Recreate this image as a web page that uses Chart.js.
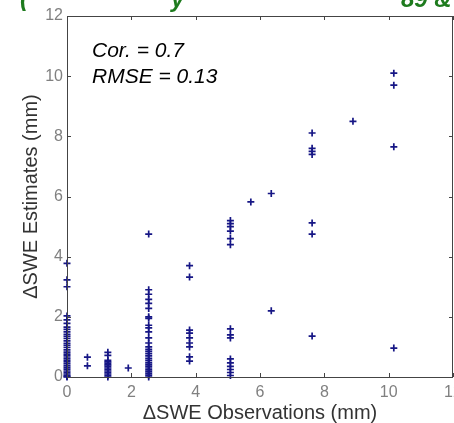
<!DOCTYPE html>
<html>
<head>
<meta charset="utf-8">
<script src="https://cdn.jsdelivr.net/npm/chart.js@4.4.1/dist/chart.umd.min.js"></script>
<style>
html,body{margin:0;padding:0;background:#fff;}
canvas{display:block;}
</style>
</head>
<body>
<canvas id="c" width="454" height="423"></canvas>
<script>
// ---- Data ----
const obsLevels = [0, 0.635, 1.27, 1.905, 2.54, 3.81, 5.08, 5.715, 6.35, 7.62, 8.89, 10.16];
const estAt0 = [3.78, 3.23, 3.0, 2.03, 1.9, 1.78, 1.66, 1.58, 1.5, 1.42, 1.35, 1.28, 1.2, 1.12, 1.05, 0.98, 0.9, 0.83, 0.76, 0.7, 0.63, 0.56, 0.5, 0.44, 0.38, 0.32, 0.26, 0.2, 0.15, 0.1, 0.05, 0.02, 0];
const estAt0635 = [0.66, 0.37];
const estAt127 = [0.82, 0.72, 0.55, 0.5, 0.45, 0.4, 0.35, 0.3, 0.25, 0.2, 0.15, 0.1, 0.05, 0.0];
const estAt1905 = [0.3];
const estAt254 = [4.75, 2.9, 2.75, 2.58, 2.45, 2.28, 2.0, 1.95, 1.72, 1.63, 1.5, 1.3, 1.13, 1.0, 0.92, 0.85, 0.78, 0.7, 0.62, 0.55, 0.48, 0.42, 0.36, 0.3, 0.24, 0.18, 0.12, 0.06, 0.0];
const estAt381 = [3.7, 3.32, 1.56, 1.46, 1.3, 1.13, 1.0, 0.67, 0.53];
const estAt508 = [5.2, 5.1, 5.0, 4.85, 4.6, 4.4, 1.6, 1.4, 1.3, 0.6, 0.47, 0.35, 0.25, 0.15, 0.05];
const estAt5715 = [5.82];
const estAt635 = [6.1, 2.2];
const estAt762 = [8.11, 7.6, 7.5, 7.4, 5.12, 4.75, 1.36];
const estAt889 = [8.5];
const estAt1016 = [10.1, 9.7, 7.65, 0.96];
const estColumns = [estAt0, estAt0635, estAt127, estAt1905, estAt254, estAt381, estAt508, estAt5715, estAt635, estAt762, estAt889, estAt1016];
const tickValues = [0, 2, 4, 6, 8, 10, 12];
const statLines = ['Cor. = 0.7', 'RMSE = 0.13'];
const xTitle = '\u0394SWE Observations (mm)';
const yTitle = '\u0394SWE Estimates (mm)';
const topFragments = ['(', 'y', '89 &'];

// build points
const points = [];
obsLevels.forEach((x, i) => estColumns[i].forEach(y => points.push({x: x, y: y})));

const boxPlugin = {
  id: 'matlabBox',
  afterDatasetsDraw(chart) {
    const {ctx, chartArea: a, scales} = chart;
    ctx.save();
    ctx.strokeStyle = '#444';
    ctx.lineWidth = 1;
    ctx.strokeRect(Math.round(a.left) + 0.5, Math.round(a.top) + 0.5, Math.round(a.right - a.left) - 1, Math.round(a.bottom - a.top));
    const L = 4;
    ctx.beginPath();
    tickValues.forEach(v => {
      const px = Math.round(scales.x.getPixelForValue(v)) + 0.5;
      ctx.moveTo(px, a.bottom); ctx.lineTo(px, a.bottom - L);
      ctx.moveTo(px, a.top); ctx.lineTo(px, a.top + L);
      const py = Math.round(scales.y.getPixelForValue(v)) + 0.5;
      ctx.moveTo(a.left, py); ctx.lineTo(a.left + L, py);
      ctx.moveTo(a.right, py); ctx.lineTo(a.right - L, py);
    });
    ctx.stroke();
    // stats text
    ctx.fillStyle = '#000';
    ctx.font = 'italic 21px "Liberation Sans", Arial, sans-serif';
    ctx.textBaseline = 'alphabetic';
    ctx.textAlign = 'left';
    ctx.fillText(statLines[0], a.left + 25, a.top + 41);
    ctx.fillText(statLines[1], a.left + 25, a.top + 67);
    // cut-off green title fragments at very top
    ctx.fillStyle = '#1e7b1e';
    ctx.font = 'bold italic 24px "Liberation Sans", Arial, sans-serif';
    ctx.fillText(topFragments[0], 20, 6);
    ctx.fillText(topFragments[1], 171, 7);
    ctx.fillText(topFragments[2], 401, 7);
    ctx.restore();
  }
};

new Chart(document.getElementById('c'), {
  type: 'scatter',
  data: {
    datasets: [{
      data: points,
      pointStyle: 'cross',
      pointRadius: 3.5,
      pointBorderWidth: 1.7,
      borderColor: '#161685',
      backgroundColor: '#161685',
      clip: false
    }]
  },
  options: {
    responsive: false,
    animation: false,
    events: [],
    layout: {autoPadding: false, padding: {top: 16, right: 1, left: 0, bottom: 0}},
    plugins: {legend: {display: false}, tooltip: {enabled: false}},
    scales: {
      x: {
        type: 'linear', min: 0, max: 12,
        afterBuildTicks(s) { s.ticks = tickValues.map(v => ({value: v})); },
        grid: {display: false, drawTicks: false, tickLength: 0},
        border: {display: false},
        ticks: {color: '#808080', font: {size: 16, family: '"Liberation Sans", Arial, sans-serif'}, padding: 6, maxRotation: 0, autoSkip: false},
        title: {display: true, text: xTitle, color: '#333', font: {size: 20, family: '"Liberation Sans", Arial, sans-serif', lineHeight: 1}, padding: {top: 0, bottom: 0}},
        afterFit(s) { s.height = 46; s.paddingLeft = 0; s.paddingRight = 0; }
      },
      y: {
        type: 'linear', min: 0, max: 12,
        afterBuildTicks(s) { s.ticks = tickValues.map(v => ({value: v})); },
        grid: {display: false, drawTicks: false, tickLength: 0},
        border: {display: false},
        ticks: {color: '#808080', font: {size: 16, family: '"Liberation Sans", Arial, sans-serif'}, padding: 4, autoSkip: false},
        title: {display: true, text: yTitle, color: '#333', font: {size: 20, family: '"Liberation Sans", Arial, sans-serif', lineHeight: 1}, padding: {top: 21, bottom: 0}},
        afterFit(s) { s.width = 67; s.paddingTop = 0; s.paddingBottom = 0; }
      }
    }
  },
  plugins: [boxPlugin]
});
</script>
</body>
</html>
